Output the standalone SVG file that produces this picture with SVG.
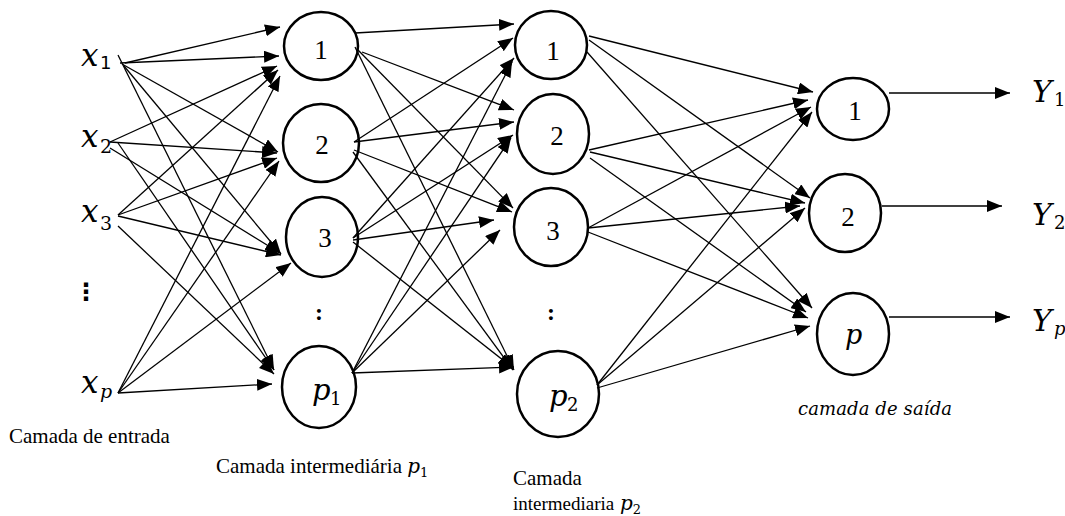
<svg xmlns="http://www.w3.org/2000/svg" width="1065" height="516" viewBox="0 0 1065 516">
<defs>
<marker id="ah" markerUnits="userSpaceOnUse" markerWidth="15" markerHeight="12" refX="15" refY="6" orient="auto">
<path d="M0,0 L15,6 L0,12 z" fill="#000"/>
</marker>
<style>
.node ellipse{fill:#fff;stroke:#000;stroke-width:2.5}
.num{font-family:"Liberation Serif","Times New Roman",serif;font-size:27px;text-anchor:middle;fill:#000}
.math{font-family:"DejaVu Serif",serif;font-style:italic;fill:#000}
.sub{font-family:"DejaVu Serif",serif;fill:#000}
.lbl{font-family:"Liberation Serif","Times New Roman",serif;font-size:21px;fill:#000}
#connectors line{stroke:#000;stroke-width:1.3;marker-end:url(#ah)}
</style>
</defs>
<rect width="1065" height="516" fill="#fff"/>

<g id="inputs">
<g id="x1"><text class="math" x="81" y="66" font-size="31">x</text><text x="100" y="69" font-family="DejaVu Sans,sans-serif" font-size="18">1</text></g>
<g id="x2"><text class="math" x="81" y="147" font-size="31">x</text><text class="sub" x="100" y="153" font-size="19">2</text></g>
<g id="x3"><text class="math" x="81" y="222" font-size="31">x</text><text class="sub" x="100" y="230" font-size="19">3</text></g>
<g id="xdots"><text x="86" y="300" font-family="DejaVu Sans,sans-serif" font-size="24" font-weight="bold" text-anchor="middle">⋮</text></g>
<g id="xp"><text class="math" x="81" y="393" font-size="31">x</text><text class="math" x="100" y="398" font-size="19">p</text></g>
</g>

<g id="layer1">
<g id="l1n1" class="node"><ellipse cx="321" cy="46" rx="37" ry="34"/><text class="num" x="321" y="59">1</text></g>
<g id="l1n2" class="node"><ellipse cx="321" cy="143" rx="38" ry="39"/><text class="num" x="322" y="154">2</text></g>
<g id="l1n3" class="node"><ellipse cx="322" cy="237" rx="36" ry="40"/><text class="num" x="325" y="247">3</text></g>
<g id="l1dots"><text x="319" y="320" font-family="Liberation Serif,serif" font-size="24" font-weight="bold" text-anchor="middle">:</text></g>
<g id="l1p1" class="node"><ellipse cx="319" cy="387" rx="37" ry="41"/><text class="math" x="312" y="400" font-size="29">p</text><text class="sub" x="330" y="405" font-size="18">1</text></g>
</g>

<g id="layer2">
<g id="l2n1" class="node"><ellipse cx="551" cy="45" rx="36" ry="34"/><text class="num" x="553" y="60">1</text></g>
<g id="l2n2" class="node"><ellipse cx="553" cy="134" rx="36" ry="40"/><text class="num" x="557" y="145">2</text></g>
<g id="l2n3" class="node"><ellipse cx="551" cy="227" rx="37" ry="39"/><text class="num" x="553" y="240">3</text></g>
<g id="l2dots"><text x="551" y="320" font-family="Liberation Serif,serif" font-size="24" font-weight="bold" text-anchor="middle">:</text></g>
<g id="l2p2" class="node"><ellipse cx="558" cy="394" rx="41" ry="43"/><text class="math" x="549" y="406" font-size="29">p</text><text class="sub" x="567" y="411" font-size="18">2</text></g>
</g>

<g id="output">
<g id="o1" class="node"><ellipse cx="853" cy="109" rx="36" ry="31"/><text class="num" x="855" y="120">1</text></g>
<g id="o2" class="node"><ellipse cx="845" cy="213" rx="36" ry="39"/><text class="num" x="848" y="226">2</text></g>
<g id="op" class="node"><ellipse cx="853" cy="334" rx="36" ry="41"/><text class="math" x="845" y="344" font-size="27">p</text></g>
</g>

<g id="connectors">
<line x1="125" y1="63" x2="280" y2="27"/>
<line x1="120" y1="63" x2="279" y2="56"/>
<line x1="122" y1="64" x2="278" y2="152"/>
<line x1="124" y1="66" x2="281" y2="254"/>
<line x1="118" y1="55" x2="274" y2="370"/>
<line x1="110" y1="142" x2="277" y2="66"/>
<line x1="110" y1="142" x2="277" y2="153"/>
<line x1="110" y1="148" x2="280" y2="253"/>
<line x1="118" y1="143" x2="274" y2="370"/>
<line x1="118" y1="215" x2="278" y2="70"/>
<line x1="118" y1="215" x2="277" y2="158"/>
<line x1="118" y1="216" x2="281" y2="255"/>
<line x1="118" y1="226" x2="274" y2="374"/>
<line x1="118" y1="393" x2="280" y2="76"/>
<line x1="118" y1="393" x2="279" y2="161"/>
<line x1="118" y1="393" x2="291" y2="263"/>
<line x1="118" y1="393" x2="272" y2="384"/>

<line x1="355" y1="33" x2="514" y2="24"/>
<line x1="362" y1="52" x2="514" y2="110"/>
<line x1="358" y1="50" x2="513" y2="208"/>
<line x1="355" y1="47" x2="514" y2="370"/>
<line x1="354" y1="142" x2="513" y2="38"/>
<line x1="354" y1="142" x2="514" y2="122"/>
<line x1="354" y1="150" x2="512" y2="212"/>
<line x1="353" y1="152" x2="513" y2="370"/>
<line x1="353" y1="238" x2="514" y2="58"/>
<line x1="353" y1="238" x2="513" y2="135"/>
<line x1="353" y1="240" x2="494" y2="220"/>
<line x1="353" y1="242" x2="513" y2="368"/>
<line x1="352" y1="373" x2="512" y2="62"/>
<line x1="352" y1="373" x2="511" y2="138"/>
<line x1="352" y1="373" x2="500" y2="230"/>
<line x1="352" y1="373" x2="514" y2="367"/>

<line x1="589" y1="36" x2="813" y2="92"/>
<line x1="589" y1="40" x2="810" y2="198"/>
<line x1="587" y1="52" x2="812" y2="308"/>
<line x1="589" y1="150" x2="808" y2="100"/>
<line x1="590" y1="152" x2="805" y2="203"/>
<line x1="590" y1="158" x2="806" y2="312"/>
<line x1="588" y1="228" x2="811" y2="107"/>
<line x1="588" y1="228" x2="800" y2="206"/>
<line x1="588" y1="232" x2="808" y2="318"/>
<line x1="597" y1="385" x2="812" y2="112"/>
<line x1="597" y1="385" x2="805" y2="208"/>
<line x1="597" y1="388" x2="810" y2="326"/>

<line x1="889" y1="93" x2="1010" y2="93"/>
<line x1="882" y1="206" x2="1002" y2="206"/>
<line x1="889" y1="317" x2="1010" y2="317"/>
</g>

<g id="outlabels">
<text class="math" x="1032" y="102" font-size="30">Y</text><text class="sub" x="1054" y="106" font-size="18">1</text>
<text class="math" x="1032" y="225" font-size="30">Y</text><text class="sub" x="1054" y="229" font-size="18">2</text>
<text class="math" x="1032" y="331" font-size="30">Y</text><text class="math" x="1054" y="335" font-size="18">p</text>
</g>

<g id="labels">
<text class="lbl" x="9" y="443">Camada de entrada</text>
<text class="lbl" x="216" y="473">Camada intermediária <tspan font-family="DejaVu Serif,serif" font-style="italic" font-size="20">p</tspan><tspan font-family="DejaVu Serif,serif" font-size="13" dy="4">1</tspan></text>
<text class="lbl" x="513" y="485">Camada</text>
<text class="lbl" x="513" y="510" font-size="19" style="font-size:19px">intermediaria</text>
<text x="620" y="510" font-family="DejaVu Serif,serif" font-style="italic" font-size="20">p<tspan font-style="normal" font-size="13" dy="4">2</tspan></text>
<text x="798" y="415" font-family="DejaVu Serif,serif" font-style="italic" font-size="18" textLength="154">camada de saída</text>
</g>
</svg>
